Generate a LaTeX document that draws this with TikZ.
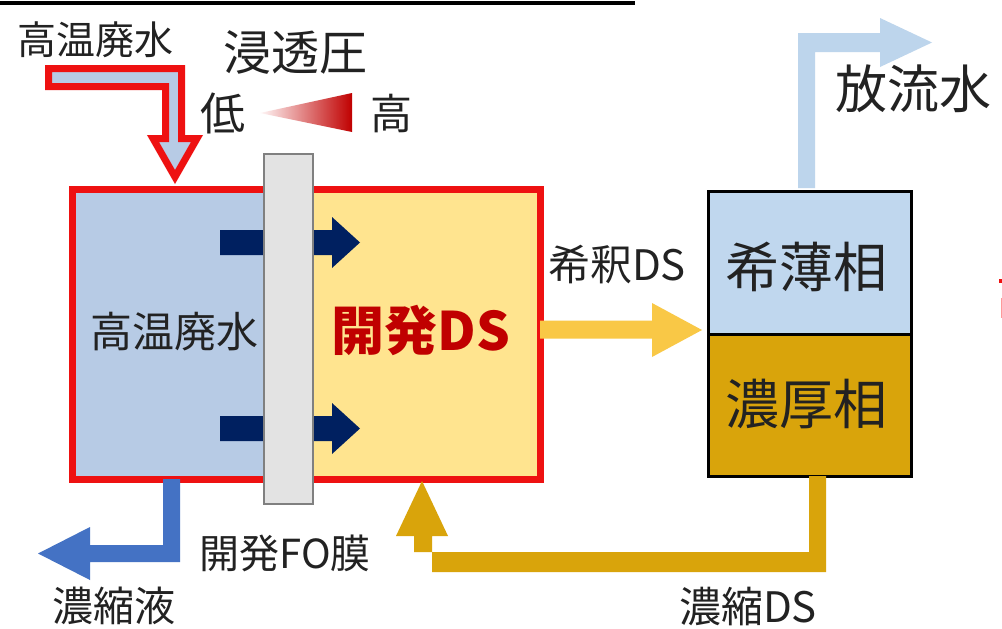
\documentclass[tikz,border=0pt]{standalone}
\usepackage{fontspec}
\setmainfont{Noto Sans CJK JP}
\definecolor{redline}{HTML}{EE1111}
\definecolor{waterblue}{HTML}{B7CBE5}
\definecolor{dsyellow}{HTML}{FFE48F}
\definecolor{memgray}{HTML}{E3E3E3}
\definecolor{memborder}{HTML}{808080}
\definecolor{navy}{HTML}{002060}
\definecolor{dilute}{HTML}{C0D7EE}
\definecolor{gold}{HTML}{D9A40B}
\definecolor{arrowyellow}{HTML}{F9C846}
\definecolor{outblue}{HTML}{BDD5EC}
\definecolor{drainblue}{HTML}{4472C4}
\definecolor{darkred}{HTML}{C00000}
\definecolor{textgray}{HTML}{222222}
\newcommand{\fsz}[1]{\fontsize{#1}{#1}\selectfont}
\begin{document}
\begin{tikzpicture}[x=1pt,y=-1pt,
  txt/.style={inner sep=0pt, text=textgray},
  boxnode/.style={inner sep=0pt, anchor=north west},
  blockarrow/.style={line join=miter}]
\useasboundingbox[fill=white] (0,0) rectangle (1002,629);

% top rule
\coordinate (ruleL) at (0,3);
\coordinate (ruleR) at (635,3);
\draw[line width=4pt] (ruleL) -- (ruleR);

% tank fills
\fill[waterblue] (68.5,185.5) rectangle (290,475.5);
\fill[dsyellow] (290,185.5) rectangle (536.5,475.5);

% navy permeation arrows (behind membrane)
\fill[navy] (220,230) -- (332,230) -- (332,217) -- (360,242.5) -- (332,268) -- (332,255) -- (220,255) -- cycle;
\fill[navy] (220,416) -- (332,416) -- (332,403) -- (360,428.5) -- (332,454) -- (332,441) -- (220,441) -- cycle;

% tank outline
\node[boxnode, draw=redline, line width=7pt, minimum width=468pt, minimum height=290pt] (tank) at (68.5,185.5) {};

% membrane
\node[boxnode, draw=memborder, fill=memgray, line width=2pt, minimum width=49pt, minimum height=350pt] (membrane) at (263,153) {};

% inlet arrow
\draw[blockarrow, draw=redline, fill=waterblue, line width=7pt]
  (48.5,68.5) -- (181.5,68.5) -- (181.5,138.5) -- (197,138.5) -- (175,177) -- (153,138.5) -- (165.5,138.5) -- (165.5,86.5) -- (48.5,86.5) -- cycle;

% osmotic pressure gradient
\shade[left color=red!3, right color=darkred] (260,113) -- (352,93) -- (352,132) -- cycle;

% separator boxes
\node[boxnode, draw=black, line width=3pt, fill=gold, minimum width=203pt, minimum height=141.5pt] (concbox) at (706.5,333) {};
\node[boxnode, draw=black, line width=3pt, fill=dilute, minimum width=203pt, minimum height=143.5pt] (dilbox) at (706.5,189.5) {};

% diluted DS arrow
\fill[arrowyellow] (540,320.5) -- (652,320.5) -- (652,303) -- (702,330) -- (652,357) -- (652,338.5) -- (540,338.5) -- cycle;

% discharge water arrow
\fill[outblue] (798,188) -- (798,33) -- (880,33) -- (880,18) -- (932,42.5) -- (880,67) -- (880,52) -- (815,52) -- (815,188) -- cycle;

% concentrate drain arrow
\fill[drainblue] (163,479) -- (180,479) -- (180,562) -- (90,562) -- (90,580) -- (38,553.5) -- (90,527) -- (90,545) -- (163,545) -- cycle;

% concentrated DS return arrow
\fill[gold] (809,476) -- (826,476) -- (826,572) -- (432,572) -- (432,536) -- (448,536) -- (422,481) -- (396,536) -- (414,536) -- (414,552) -- (809,552) -- cycle;

% small red marks at right edge
\fill[redline] (999,279) rectangle (1002,283);
\fill[red!40] (1000.5,298) rectangle (1002,318);

% labels
\node[txt] (lblin) at (95,40) {\fsz{39}高温廃水};
\node[txt] (lblosm) at (295,52) {\fsz{48}浸透圧};
\node[txt] (lbllow) at (223,113) {\fsz{45}低};
\node[txt] (lblhigh) at (391,114) {\fsz{42}高};
\node[txt] (lblout) at (913,89) {\fsz{52}放流水};
\node[txt] (lbltank) at (174,332) {\fsz{42}高温廃水};
\node[inner sep=0pt, text=darkred, font=\bfseries] (lblds) at (421,330) {\fsz{53}開発DS};
\node[txt] (lbldil) at (617,265) {\fsz{42}希釈DS};
\node[txt] (lbldilbox) at (806,267) {\fsz{54}希薄相};
\node[txt] (lblconcbox) at (806,404) {\fsz{54}濃厚相};
\node[txt] (lblmem) at (285,553) {\fsz{40}開発FO膜};
\node[txt] (lbldrain) at (114,606) {\fsz{41}濃縮液};
\node[txt] (lblconc) at (748,606) {\fsz{42}濃縮DS};
\end{tikzpicture}
\end{document}
